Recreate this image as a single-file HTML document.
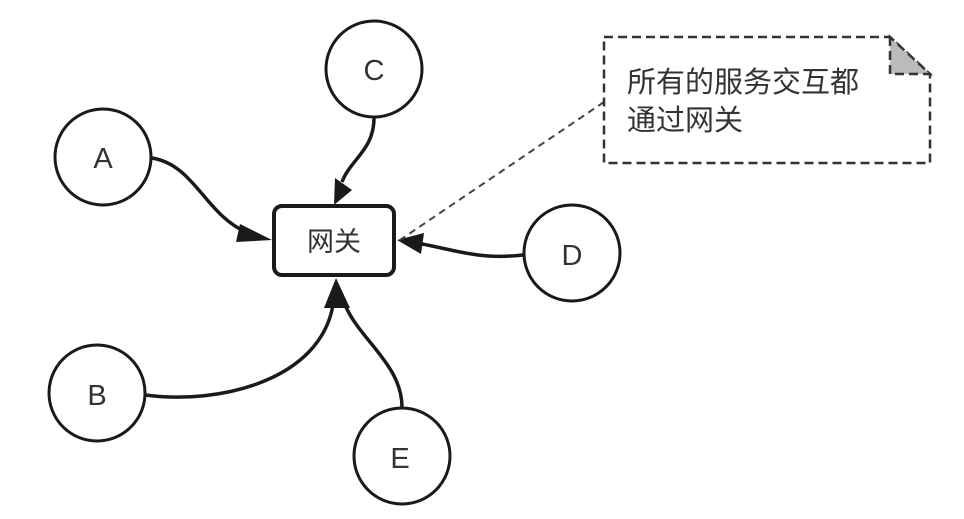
<!DOCTYPE html>
<html><head><meta charset="utf-8"><style>
html,body{margin:0;padding:0;background:#fff;}
svg{display:block;}
text{font-family:"Liberation Sans","Noto Sans CJK SC",sans-serif;fill:#333;}
</style></head><body>
<svg width="964" height="519" viewBox="0 0 964 519" xmlns="http://www.w3.org/2000/svg">
<g fill="none" stroke="#1a1a1a" stroke-width="3.5">
<path d="M152 158 C 195 165, 205 215, 248 233"/>
<path d="M374 118 C 374 150, 350 160, 342 182"/>
<path d="M523 255 C 480 260, 455 250, 422 244"/>
<path d="M145 395 C 220 405, 320 380, 333 305"/>
<path d="M402 407 C 402 365, 360 340, 345 305"/>
</g>
<g fill="#1a1a1a">
<polygon points="272,240 240,224 236,242"/>
<polygon points="334,205 335,178 352,190"/>
<polygon points="397,240 424,233 421,254"/>
<polygon points="336,278 324,308 350,308"/>
</g>
<line x1="604" y1="102" x2="400" y2="240" stroke="#444" stroke-width="2" stroke-dasharray="7,5"/>
<g fill="#fff" stroke="#1a1a1a" stroke-width="3">
<circle cx="103" cy="157" r="48"/>
<circle cx="374" cy="69" r="48"/>
<circle cx="572" cy="253" r="48"/>
<circle cx="97" cy="393" r="48"/>
<circle cx="402" cy="456" r="48"/>
</g>
<g font-size="29" text-anchor="middle">
<text x="103" y="168">A</text>
<text x="374" y="80">C</text>
<text x="572" y="265">D</text>
<text x="97" y="405">B</text>
<text x="400" y="468">E</text>
</g>
<rect x="274" y="206" width="120" height="69" rx="8" fill="#fff" stroke="#1a1a1a" stroke-width="4"/>
<text x="334" y="251" font-size="27" text-anchor="middle">网关</text>
<path d="M604 37 L890 37 L930 74 L930 163 L604 163 Z" fill="#fff" stroke="#333" stroke-width="2.5" stroke-dasharray="9,5"/>
<path d="M890 37 L890 74 L930 74 Z" fill="#bbb" stroke="#333" stroke-width="2.5" stroke-dasharray="9,5"/>
<text x="627" y="92" font-size="29">所有的服务交互都</text>
<text x="627" y="130" font-size="29">通过网关</text>
</svg>
</body></html>
